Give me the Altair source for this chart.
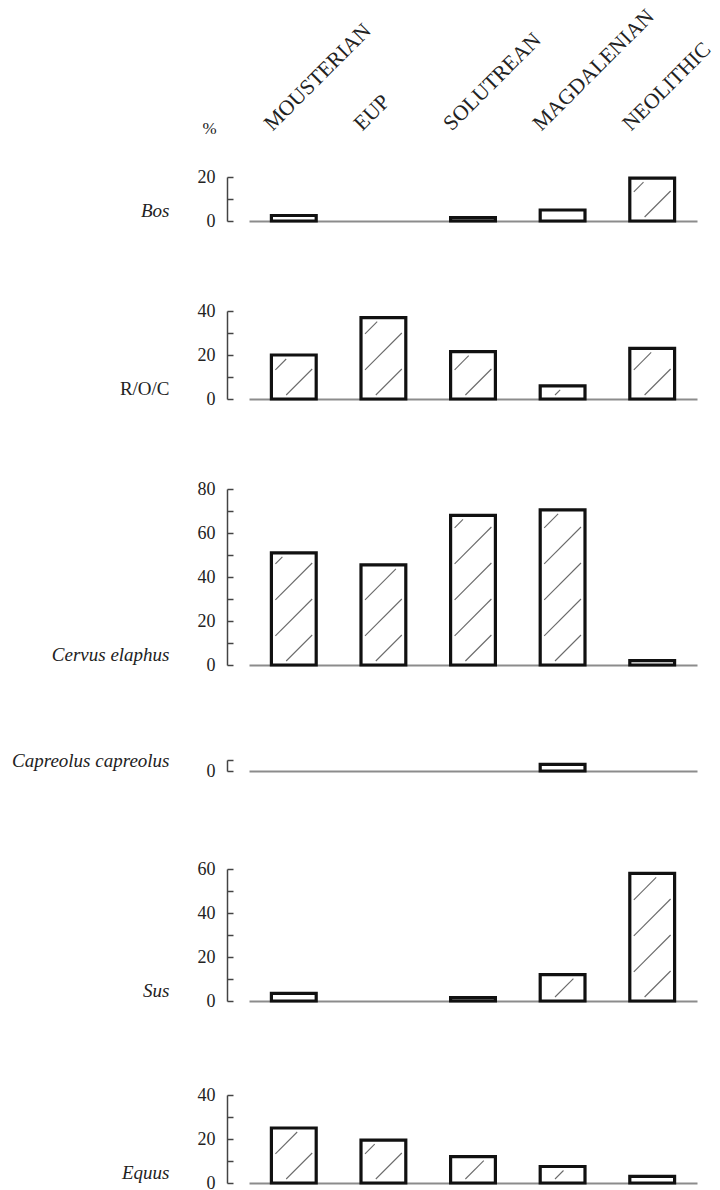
import altair as alt
import pandas as pd

periods = ["MOUSTERIAN", "EUP", "SOLUTREAN", "MAGDALENIAN", "NEOLITHIC"]
taxa = ["Bos", "R/O/C", "Cervus elaphus", "Capreolus capreolus", "Sus", "Equus"]
bos = [2.5, 0, 1.5, 5, 19.5]
roc = [20, 37, 21.5, 6, 23]
cervus = [51, 45.5, 68, 70.5, 2]
capreolus = [0, 0, 0, 3, 0]
sus = [3.5, 0, 1.5, 12, 58]
equus = [25, 19.5, 12, 7.5, 3]
series = [bos, roc, cervus, capreolus, sus, equus]
axis_top = [20, 40, 80, 5, 60, 40]
label_values = [[0, 20], [0, 20, 40], [0, 20, 40, 60, 80], [0], [0, 20, 40, 60], [0, 20, 40]]
tick_values = [[0, 10, 20], [0, 10, 20, 30, 40], [0, 10, 20, 30, 40, 50, 60, 70, 80], [0, 5],
               [0, 10, 20, 30, 40, 50, 60], [0, 10, 20, 30, 40]]
italic = [True, False, True, True, True, True]
extra_gap = [0, 0, 0, 5, 8, 4]   # additional blank space above each panel (px)

W = 448
YPU = 2.2            # pixels per percentage unit
XPU = W / 5.0        # pixels per category step
BAR = 0.5            # bar width in category steps
FONT = "Liberation Serif"
TXT = "#222222"

# hatch pattern (pixels)
H_SPACE = 36
H_PHASE = -10.8
H_MARGIN = 4


def hatch_rows(values):
    rows = []
    bw = BAR * XPU
    for idx, v in enumerate(values):
        hpx = v * YPU
        c = H_PHASE
        while c < hpx:
            t0 = max(H_MARGIN, H_MARGIN - c)
            t1 = min(bw - H_MARGIN, hpx - H_MARGIN - c)
            if t1 - t0 > 3:
                rows.append({
                    "hx": idx - BAR / 2 + t0 / XPU, "hx2": idx - BAR / 2 + t1 / XPU,
                    "hy": (c + t0) / YPU, "hy2": (c + t1) / YPU,
                })
            c += H_SPACE
    return pd.DataFrame(rows, columns=["hx", "hx2", "hy", "hy2"])


def panel(i):
    df = pd.DataFrame({"idx": list(range(len(periods))), "period": periods, "value": series[i]})
    df["x0"] = df["idx"] - BAR / 2
    df["x1"] = df["idx"] + BAR / 2
    df = df[df["value"] > 0]
    h = round(axis_top[i] * YPU)
    e = extra_gap[i]
    H = h + e
    xscale = alt.Scale(domain=[-0.5, len(periods) - 0.5], nice=False, zero=False, padding=0)
    yscale = alt.Scale(domain=[0, axis_top[i]], nice=False, zero=True, padding=0,
                       range=[H, e])

    left_axis = alt.Axis(
        orient="left", values=label_values[i], offset=22, domain=False, ticks=False,
        tickSize=0, labelPadding=12, labelFont=FONT, labelFontSize=18, labelColor=TXT,
        grid=False, title=taxa[i], titleFont=FONT, titleFontSize=19,
        titleFontStyle="italic" if italic[i] else "normal", titleFontWeight="normal",
        titleAngle=0, titleAlign="right", titleBaseline="alphabetic",
        titleX=-58, titleY=H - 5, titleColor=TXT,
    )
    bottom_axis = alt.Axis(orient="bottom", labels=False, ticks=False, domain=True,
                           domainColor="#8c8c8c", domainWidth=2, grid=False, title="")

    bars = alt.Chart(df).mark_rect(fill="white", stroke="#111111", strokeWidth=3.2).encode(
        x=alt.X("x0:Q", scale=xscale, axis=bottom_axis),
        x2="x1:Q",
        y=alt.Y("value:Q", scale=yscale, axis=left_axis),
        y2=alt.datum(0),
    )

    layers = [bars]
    hdf = hatch_rows(series[i])
    if len(hdf):
        hatch = alt.Chart(hdf).mark_rule(color="#6a6a6a", strokeWidth=1.1).encode(
            x=alt.X("hx:Q", scale=xscale, axis=None),
            x2="hx2:Q",
            y=alt.Y("hy:Q", scale=yscale, axis=None),
            y2="hy2:Q",
        )
        layers.append(hatch)

    rkw = dict(orient="right", offset=-(W + 22), values=tick_values[i], labels=False,
               domain=True, domainColor="#444444", domainWidth=1.5, ticks=True,
               tickColor="#444444", tickWidth=1.5, tickSize=6, grid=False)
    if i == 0:
        rkw.update(title="%", titleFont=FONT, titleFontSize=17, titleFontWeight="normal",
                   titleAngle=0, titleAlign="center", titleBaseline="middle",
                   titleX=-18, titleY=-49, titleColor=TXT)
        names = "[" + ",".join("'" + p + "'" for p in periods) + "]"
        top_axis = alt.Axis(orient="top", values=list(range(len(periods))),
                            labelExpr=names + "[datum.value]", labelOverlap=False,
                            labelAngle=-45, labelAlign="left",
                            labelBaseline="middle", labelOffset=-26, labelPadding=50,
                            domain=False, ticks=False, labelFont=FONT, labelFontSize=21.5,
                            labelColor=TXT, grid=False, title="")
    else:
        rkw.update(title="")
        top_axis = None
    right_axis = alt.Axis(**rkw)

    ghost = alt.Chart(df).mark_point(opacity=0).encode(
        x=alt.X("idx:Q", scale=xscale, axis=top_axis),
        y=alt.Y("value:Q", scale=yscale, axis=right_axis),
    )
    layers.append(ghost)
    return alt.layer(*layers).resolve_axis(x="independent", y="independent").properties(
        width=W, height=H)


p = [panel(i) for i in range(6)]
chart = alt.vconcat(*p, spacing=90, bounds="flush").properties(
    padding={"left": 11, "top": 5, "right": 0, "bottom": 0},
    background="white",
).configure_view(stroke=None)

chart.save("out.html", embed_options={"renderer": "svg", "actions": False})
